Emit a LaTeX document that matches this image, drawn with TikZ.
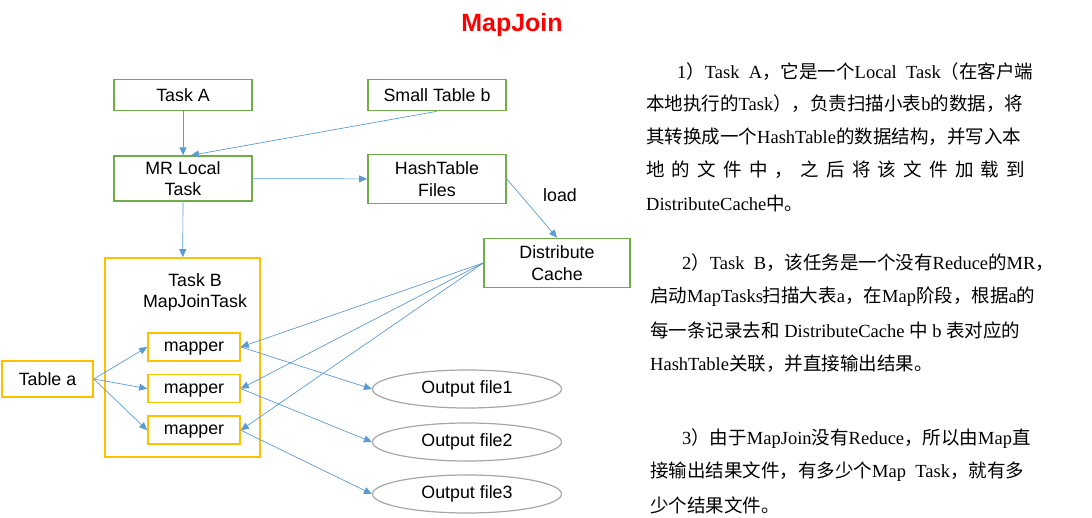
\documentclass[tikz,border=0pt]{standalone}
\usepackage{fontspec}
\setmainfont{Liberation Sans}
\newfontfamily\zhfont{Noto Sans CJK SC}
\newfontfamily\enfont{Liberation Serif}
\usetikzlibrary{positioning,shapes.geometric,arrows.meta}
\definecolor{boxgreen}{RGB}{112,173,71}
\definecolor{boxyellow}{RGB}{255,192,0}
\definecolor{linkblue}{RGB}{91,155,213}
\definecolor{filegray}{RGB}{166,166,166}
\newcommand{\entxt}[1]{{\enfont #1}}

\begin{document}
\begin{tikzpicture}[x=1pt,y=-1pt]

% definitions
\tikzstyle{task} = [rectangle, minimum width=138pt, minimum height=31pt, text centered, align=center, draw=boxgreen, line width=1.6pt, fill=white, inner sep=2pt, font=\fontsize{17.8}{21.5}\selectfont]

\tikzstyle{tablebox} = [rectangle, minimum width=91pt, minimum height=36pt, text centered, draw=boxyellow, line width=1.6pt, fill=white, font=\fontsize{17.8}{21.5}\selectfont]

\tikzstyle{mapper} = [rectangle, minimum width=92pt, minimum height=28pt, text centered, text depth=0pt, draw=boxyellow, line width=1.6pt, fill=white, inner sep=2pt, font=\fontsize{17.8}{21.5}\selectfont]

\tikzstyle{container} = [rectangle, minimum width=155pt, minimum height=199pt, draw=boxyellow, line width=1.6pt]

\tikzstyle{outfile} = [ellipse, minimum width=189pt, minimum height=38pt, draw=filegray, line width=1.2pt, font=\fontsize{17.8}{21.5}\selectfont]

\tikzstyle{arrow} = [-{Triangle[width=7pt,length=8pt]}, color=linkblue, line width=0.7pt]

\tikzstyle{desc} = [anchor=west, inner sep=0pt, font=\zhfont\fontsize{18.5}{22}\selectfont]

\useasboundingbox (0,0) rectangle (1092,518);

% the graph
\node (title) [text=red, font=\bfseries\fontsize{25}{30}\selectfont] at (512,25) {MapJoin};

\node (taska) [task] at (183,95) {Task A};

\node (smallb) [task] at (437,95) {Small Table b};

\node (mrlocal) [task, minimum height=45pt, below=44pt of taska] {MR Local\\Task};

\node (hashfiles) [task, minimum height=49pt] at (437,179) {HashTable\\Files};

\node (dcache) [task, minimum width=146pt, minimum height=49pt] at (557,263) {Distribute\\Cache};

\node (load) [font=\fontsize{17.8}{21.5}\selectfont] at (560,195) {load};

\node (taskb) [container] at (182.5,357.5) {};

\node (tbname) [align=center, font=\fontsize{17.8}{21}\selectfont] at (195,292) {Task B\\MapJoinTask};

\node (m1) [mapper] at (194,347) {mapper};

\node (m2) [mapper, below=12pt of m1] {mapper};

\node (m3) [mapper, below=12pt of m2] {mapper};

\node (tablea) [tablebox] at (47.5,379) {Table a};

\node (out1) [outfile] at (467,389) {Output file1};

\node (out2) [outfile] at (467,442) {Output file2};

\node (out3) [outfile] at (467,494) {Output file3};

\draw [arrow] (taska) -- (mrlocal);
\draw [arrow] (smallb.south) -- ([xshift=8pt]mrlocal.north);
\draw [arrow] (mrlocal) -- (hashfiles);
\draw [arrow] (mrlocal) -- (taskb);
\draw [arrow] (hashfiles.east) -- (dcache.north);

\draw [arrow] (dcache.west) -- (m1.east);
\draw [arrow] (dcache.west) -- (m2.east);
\draw [arrow] (dcache.west) -- (m3.east);

\draw [arrow] (tablea.east) -- (m1.west);
\draw [arrow] (tablea.east) -- (m2.west);
\draw [arrow] (tablea.east) -- (m3.west);

\draw [arrow] (m1.east) -- (out1.west);
\draw [arrow] (m2.east) -- (out2.west);
\draw [arrow] (m3.east) -- (out3.west);

% notes
\node (p1l1) [desc] at (677,72) {\entxt{1}）\entxt{Task\ \ A}，它是一个\entxt{Local\ \ Task}（在客户端};
\node (p1l2) [desc] at (646,104) {本地执行的\entxt{Task}），负责扫描小表\entxt{b}的数据，将};
\node (p1l3) [desc] at (646,137) {其转换成一个\entxt{HashTable}的数据结构，并写入本};
\node (p1l4) [desc] at (646,170) {\hbox to 379pt{地\hfill 的\hfill 文\hfill 件\hfill 中\hfill ，\hfill 之\hfill 后\hfill 将\hfill 该\hfill 文\hfill 件\hfill 加\hfill 载\hfill 到}};
\node (p1l5) [desc] at (646,203) {\entxt{DistributeCache}中。};

\node (p2l1) [desc] at (682,263) {\entxt{2}）\entxt{Task\ \ B}，该任务是一个没有\entxt{Reduce}的\entxt{MR}，};
\node (p2l2) [desc] at (650,297) {启动\entxt{MapTasks}扫描大表\entxt{a}，在\entxt{Map}阶段，根据\entxt{a}的};
\node (p2l3) [desc] at (650,330) {每一条记录去和\entxt{\ DistributeCache\ }中\entxt{\ b\ }表对应的};
\node (p2l4) [desc] at (650,364) {\entxt{HashTable}关联，并直接输出结果。};

\node (p3l1) [desc] at (682,439) {\entxt{3}）由于\entxt{MapJoin}没有\entxt{Reduce}，所以由\entxt{Map}直};
\node (p3l2) [desc] at (650,472) {接输出结果文件，有多少个\entxt{Map\ \ Task}，就有多};
\node (p3l3) [desc] at (650,505) {少个结果文件。};

\end{tikzpicture}
\end{document}
